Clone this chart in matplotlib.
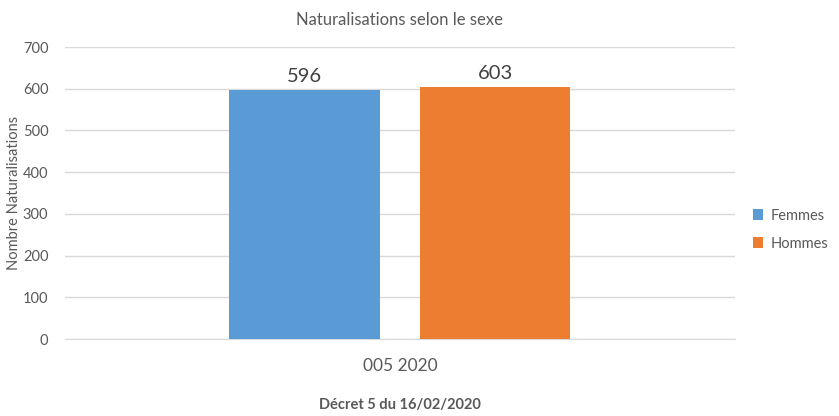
import matplotlib.pyplot as plt

plt.rcParams['font.family'] = ['Lato', 'DejaVu Sans']

categories = ["005 2020"]
series = ["Femmes", "Hommes"]
values = [[596], [603]]
colors = ["#5B9BD5", "#ED7D31"]
yticks = [0, 100, 200, 300, 400, 500, 600, 700]

TXT = "#595959"

fig = plt.figure(figsize=(8.39, 4.16), dpi=100)
ax = fig.add_axes([0.0775, 0.185, 0.7985, 0.702])

width = 0.224
offsets = [-0.1425, 0.1425]
for name, vals, col, off in zip(series, values, colors, offsets):
    xs = [i + off for i in range(len(categories))]
    bars = ax.bar(xs, vals, width=width, color=col, label=name, zorder=3)
    for b, v in zip(bars, vals):
        ax.text(b.get_x() + b.get_width() / 2, v + 14, str(v), ha="center",
                va="bottom", fontsize=14.5, color="#404040")

ax.set_xlim(-0.5, 0.5)
ax.set_ylim(0, 700)
ax.set_yticks(yticks)
ax.set_xticks(range(len(categories)))
ax.set_xticklabels(categories, fontsize=12.5, color=TXT)
ax.tick_params(axis="y", labelsize=10.5, colors=TXT, length=0, pad=12)
ax.tick_params(axis="x", length=0, pad=14)
ax.grid(axis="y", color="#D9D9D9", linewidth=1, zorder=0)
for s in ["top", "right", "left"]:
    ax.spines[s].set_visible(False)
ax.spines["bottom"].set_color("#D9D9D9")

ax.set_ylabel("Nombre Naturalisations", fontsize=10.5, color=TXT)
ax.yaxis.set_label_coords(-0.066, 0.5)
ax.set_xlabel("Décret 5 du 16/02/2020", fontsize=10.5, color=TXT,
              fontweight="bold", labelpad=17)
ax.set_title("Naturalisations selon le sexe", fontsize=12, color=TXT, pad=16)

fig.legend(loc="center left", bbox_to_anchor=(0.882, 0.448), frameon=False,
           fontsize=10.5, labelcolor=TXT, handlelength=0.7, handleheight=0.7,
           handletextpad=0.5, labelspacing=0.95)

fig.savefig("out.png", dpi=100)
